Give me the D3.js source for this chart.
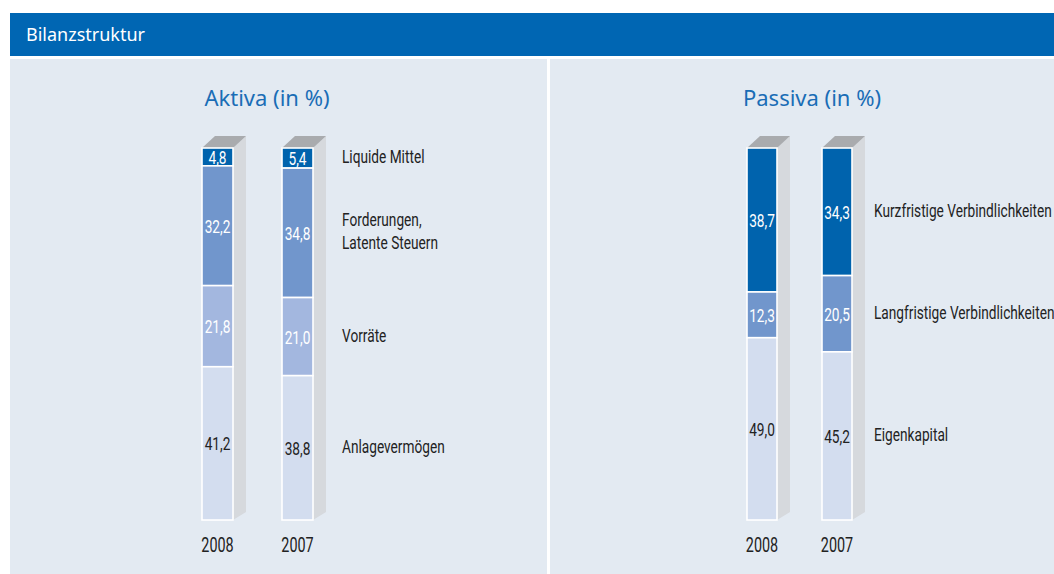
<!DOCTYPE html>
<html>
<head>
<meta charset="utf-8">
<script src="https://cdn.jsdelivr.net/npm/d3@7"></script>
<style>
  body { margin: 0; background: #fff; }
  svg { display: block; }
</style>
</head>
<body>
<div id="chart"></div>
<script>
const years = ['2008', '2007'];

const aktivaCategories = ['Liquide Mittel', 'Forderungen,\nLatente Steuern', 'Vorräte', 'Anlagevermögen'];
const aktiva2008 = [4.8, 32.2, 21.8, 41.2];
const aktiva2007 = [5.4, 34.8, 21.0, 38.8];

const passivaCategories = ['Kurzfristige Verbindlichkeiten', 'Langfristige Verbindlichkeiten', 'Eigenkapital'];
const passiva2008 = [38.7, 12.3, 49.0];
const passiva2007 = [34.3, 20.5, 45.2];

const width = 1054, height = 574;
// narrow, Futura-condensed look: Roboto squeezed horizontally
const narrowFont = 'Roboto, "Noto Sans", sans-serif';
const narrow = (x, y, s = 0.72) => `translate(${x},${y}) scale(${s},1)`;

const svg = d3.select('#chart').append('svg')
  .attr('width', width).attr('height', height);

// header bar
svg.append('rect').attr('x', 10).attr('y', 13).attr('width', width - 10).attr('height', 43)
  .attr('fill', '#0066b3');
svg.append('text').attr('x', 26).attr('y', 41)
  .attr('font-family', '"Noto Sans", sans-serif').attr('font-size', 18)
  .attr('fill', '#fff').text('Bilanzstruktur');

// two panels
svg.append('rect').attr('x', 10).attr('y', 59).attr('width', 537).attr('height', height - 59).attr('fill', '#e3eaf2');
svg.append('rect').attr('x', 550).attr('y', 59).attr('width', width - 550).attr('height', height - 59).attr('fill', '#e3eaf2');

const y = d3.scaleLinear().domain([0, 100]).range([148, 520]);

function panel(opts) {
  const g = svg.append('g');
  const x = d3.scaleBand().domain(years).range(opts.range).paddingInner(opts.pad);
  const bw = x.bandwidth();
  const depth = 13;

  g.append('text').attr('x', opts.titleX).attr('y', 106)
    .attr('text-anchor', 'middle')
    .attr('font-family', '"Noto Sans", sans-serif').attr('font-size', 22)
    .attr('fill', '#1a6db6').text(opts.title);

  const series = years.map((yr, i) => {
    let acc = 0;
    return {
      year: yr,
      segs: opts.values[i].map((v, k) => {
        const s = { v, k, y0: acc, y1: acc + v };
        acc += v;
        return s;
      })
    };
  });

  const bars = g.selectAll('g.bar').data(series).enter().append('g').attr('class', 'bar');

  // 3D side and top
  bars.append('path')
    .attr('fill', '#d6d9dd')
    .attr('d', d => {
      const x0 = x(d.year) + bw, t = y(0), b = y(100);
      return `M${x0},${t}L${x0 + depth},${t - 12}L${x0 + depth},${b - 8}L${x0},${b}Z`;
    });
  bars.append('path')
    .attr('fill', '#a9abae')
    .attr('d', d => {
      const x0 = x(d.year), t = y(0);
      return `M${x0},${t}L${x0 + depth},${t - 12}L${x0 + bw + depth},${t - 12}L${x0 + bw},${t}Z`;
    });

  const segs = bars.selectAll('g.seg').data(d => d.segs.map(s => Object.assign({ year: d.year }, s)))
    .enter().append('g').attr('class', 'seg');

  segs.append('rect')
    .attr('x', d => x(d.year))
    .attr('y', d => y(d.y0))
    .attr('width', bw)
    .attr('height', d => y(d.y1) - y(d.y0))
    .attr('fill', d => opts.colors[d.k])
    .attr('stroke', '#fff').attr('stroke-width', 1.6);

  segs.append('text')
    .attr('transform', d => narrow(x(d.year) + bw / 2, (y(d.y0) + y(d.y1)) / 2 + 7))
    .attr('text-anchor', 'middle')
    .attr('font-family', narrowFont).attr('font-size', 19)
    .attr('fill', d => opts.textColors[d.k])
    .text(d => d3.format('.1f')(d.v).replace('.', ','));

  // year labels
  g.selectAll('text.year').data(years).enter().append('text')
    .attr('class', 'year')
    .attr('transform', d => narrow(x(d) + bw / 2, 552))
    .attr('text-anchor', 'middle')
    .attr('font-family', narrowFont).attr('font-size', 20)
    .attr('fill', '#222').text(d => d);

  // category labels aligned to 2007 segments
  const last = series[1].segs;
  g.selectAll('text.cat').data(opts.categories).enter().append('text')
    .attr('class', 'cat')
    .attr('font-family', narrowFont).attr('font-size', 19)
    .attr('fill', '#222')
    .each(function (d, i) {
      const lines = d.split('\n');
      const mid = (y(last[i].y0) + y(last[i].y1)) / 2;
      const t = d3.select(this).attr('transform', narrow(opts.labelX, mid + 5));
      lines.forEach((ln, j) => {
        t.append('tspan').attr('x', 0)
          .attr('y', (j - (lines.length - 1) / 2) * 23)
          .text(ln);
      });
    });
}

panel({
  title: 'Aktiva (in %)', titleX: 267,
  range: [202, 313], pad: 0.6125,
  values: [aktiva2008, aktiva2007],
  categories: aktivaCategories,
  colors: ['#0063ad', '#7196cc', '#a3b7df', '#d3ddef'],
  textColors: ['#fff', '#fff', '#fff', '#222'],
  labelX: 342
});

panel({
  title: 'Passiva (in %)', titleX: 812,
  range: [747, 852], pad: 0.6,
  values: [passiva2008, passiva2007],
  categories: passivaCategories,
  colors: ['#0063ad', '#7196cc', '#d3ddef'],
  textColors: ['#fff', '#fff', '#222'],
  labelX: 874
});
</script>
</body>
</html>
